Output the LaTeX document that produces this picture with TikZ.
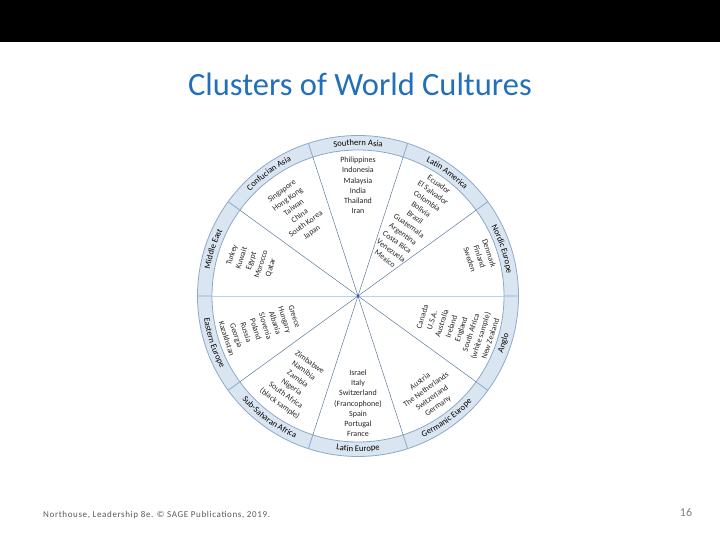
\documentclass[tikz,border=0pt]{standalone}
\usepackage{fontspec}
\setmainfont{Carlito}
\usepackage{tikz}
\usetikzlibrary{positioning,decorations.text}
\usepackage{xcolor}
\definecolor{ringfill}{HTML}{DAE5F2}
\definecolor{ringline}{HTML}{8FA8C8}
\definecolor{spoke}{HTML}{5B7A98}
\definecolor{spokelight}{HTML}{B5D3EE}
\definecolor{titleblue}{HTML}{2270B8}
\definecolor{listgrey}{HTML}{262626}

\begin{document}
\begin{tikzpicture}[x=1pt,y=1pt,
  country/.style={align=center,font=\fontsize{8}{10.2}\selectfont,text=listgrey,inner sep=0pt},
  toplist/.style={country,anchor=north,rotate=#1-90},
  botlist/.style={country,anchor=south,rotate=#1+90},
  ringtext/.style={decorate,decoration={text along path,text align=center,text color=black,
    text={|\fontsize{8.6}{10}\selectfont|#1}}}]
\useasboundingbox (0,0) rectangle (720,540);
\fill[black] (0,498) rectangle (720,540);
\node[font=\fontsize{32.5}{36}\selectfont,text=titleblue] (title) at (360,456) {Clusters of World Cultures};

\begin{scope}[shift={(358,244)}]
\coordinate (c) at (0,0);
% the ring
\fill[ringfill,even odd rule] (c) circle[radius=160.5] (c) circle[radius=146];
\draw[ringline,line width=0.8pt] (c) circle[radius=160.5] (c) circle[radius=146];
% spokes
\draw[spokelight,line width=0.6pt] (180:146) -- (0:146);
\draw[spoke,line width=0.5pt] (36:146) -- (216:146);
\draw[spoke,line width=0.5pt] (72:146) -- (252:146);
\draw[spoke,line width=0.5pt] (108:146) -- (288:146);
\draw[spoke,line width=0.5pt] (144:146) -- (324:146);
\draw[ringline,line width=0.8pt] (0:146) -- (0:160.5) (36:146) -- (36:160.5) (72:146) -- (72:160.5)
  (108:146) -- (108:160.5) (144:146) -- (144:160.5) (180:146) -- (180:160.5) (216:146) -- (216:160.5)
  (252:146) -- (252:160.5) (288:146) -- (288:160.5) (324:146) -- (324:160.5);
\fill[spoke!70!blue] (c) circle[radius=1.6];

% cluster names in the ring
\path[ringtext={Southern Asia}] (108:150.5) arc[start angle=108,end angle=72,radius=150.5];
\path[ringtext={Latin America}] (72:150.5) arc[start angle=72,end angle=36,radius=150.5];
\path[ringtext={Nordic Europe}] (36:150.5) arc[start angle=36,end angle=0,radius=150.5];
\path[ringtext={Confucian Asia}] (144:150.5) arc[start angle=144,end angle=108,radius=150.5];
\path[ringtext={Middle East}] (180:150.5) arc[start angle=180,end angle=144,radius=150.5];
\path[ringtext={Anglo}] (-36:155.5) arc[start angle=-36,end angle=0,radius=155.5];
\path[ringtext={Germanic Europe}] (-72:155.5) arc[start angle=-72,end angle=-36,radius=155.5];
\path[ringtext={Latin Europe}] (-108:155.5) arc[start angle=-108,end angle=-72,radius=155.5];
\path[ringtext={Sub-Saharan Africa}] (-144:155.5) arc[start angle=-144,end angle=-108,radius=155.5];
\path[ringtext={Eastern Europe}] (-180:155.5) arc[start angle=-180,end angle=-144,radius=155.5];

% countries
\node[toplist=90] (sasia) at (90:139) {Philippines\\Indonesia\\Malaysia\\India\\Thailand\\Iran};
\node[toplist=54] (latam) at (54:141) {Ecuador\\El Salvador\\Colombia\\Bolivia\\Brazil\\Guatemala\\Argentina\\Costa Rica\\Venezuela\\Mexico};
\node[toplist=18] (nordic) at (18:141) {Denmark\\Finland\\Sweden};
\node[toplist=126] (confucian) at (126:133) {Singapore\\Hong Kong\\Taiwan\\China\\South Korea\\Japan};
\node[toplist=162] (mideast) at (162:136) {Turkey\\Kuwait\\Egypt\\Morocco\\Qatar};
\node[botlist=-18] (anglo) at (-18:142) {Canada\\U.S.A.\\Australia\\Ireland\\England\\South Africa\\(white sample)\\New Zealand};
\node[botlist=-54] (germanic) at (-54:140) {Austria\\The Netherlands\\Switzerland\\Germany};
\node[botlist=-90] (latineu) at (-90:141) {Israel\\Italy\\Switzerland\\(Francophone)\\Spain\\Portugal\\France};
\node[botlist=-126] (subsahara) at (-126:137) {Zimbabwe\\Namibia\\Zambia\\Nigeria\\South Africa\\(black sample)};
\node[botlist=-162] (easteu) at (-162:141) {Greece\\Hungary\\Albania\\Slovenia\\Poland\\Russia\\Georgia\\Kazakhstan};
\end{scope}

\node[anchor=west,font=\fontsize{9}{11}\selectfont\addfontfeature{LetterSpace=7},text=black!65,inner sep=0pt] (foot) at (43,25) {Northouse, Leadership 8e. © SAGE Publications, 2019.};
\node[font=\fontsize{12}{14}\selectfont,text=black!50] (page) at (686,28) {16};
\end{tikzpicture}
\end{document}
